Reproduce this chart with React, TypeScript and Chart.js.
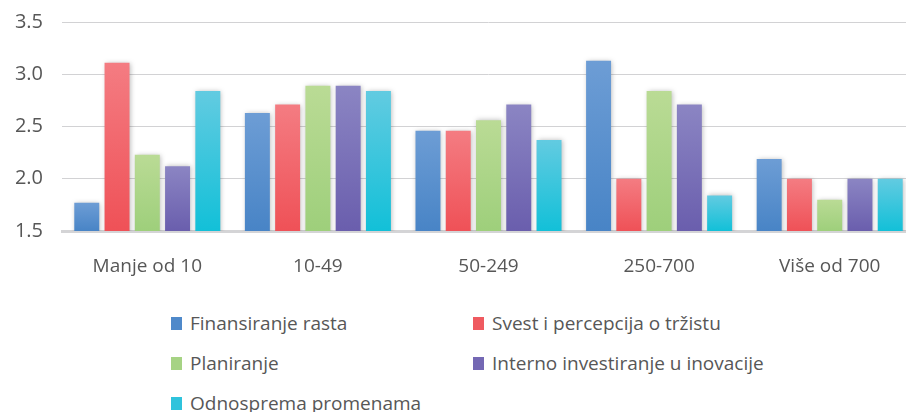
import React, { useEffect, useRef } from "react";
import { Chart, registerables } from "chart.js";

Chart.register(...registerables);

const categories = ["Manje od 10", "10-49", "50-249", "250-700", "Više od 700"];
const seriesNames = [
  "Finansiranje rasta",
  "Svest i percepcija o tržistu",
  "Planiranje",
  "Interno investiranje u inovacije",
  "Odnosprema promenama",
];
const finansiranje = [1.77, 2.63, 2.46, 3.13, 2.19];
const svest = [3.11, 2.71, 2.46, 2.0, 2.0];
const planiranje = [2.23, 2.89, 2.56, 2.84, 1.8];
const interno = [2.12, 2.89, 2.71, 2.71, 2.0];
const odnosprema = [2.84, 2.84, 2.37, 1.84, 2.0];
const yTicks = [1.5, 2.0, 2.5, 3.0, 3.5];

const seriesData = [finansiranje, svest, planiranje, interno, odnosprema];
const gradTop = ["#6d9dd5", "#f47c82", "#badb95", "#8b85c3", "#62cbe1"];
const gradBottom = ["#4884c6", "#ef5157", "#9ecf7b", "#6a5ead", "#12c0d8"];
const legendColors = ["#4f89ca", "#ef5a60", "#a6d384", "#7468b4", "#2fc3dc"];

const TEXT = "#575757";
const FONT = "'Open Sans', 'Liberation Sans', sans-serif";

export default function App() {
  const ref = useRef<HTMLCanvasElement | null>(null);

  useEffect(() => {
    if (!ref.current) return;
    const shadowPlugin = {
      id: "barShadow",
      beforeDatasetsDraw(chart: any) {
        const c = chart.ctx;
        c.save();
        c.shadowColor = "rgba(0,0,0,0.28)";
        c.shadowBlur = 5;
        c.shadowOffsetX = 1;
        c.shadowOffsetY = 0;
      },
      afterDatasetsDraw(chart: any) {
        chart.ctx.restore();
      },
    };
    const chart = new Chart(ref.current, {
      type: "bar",
      data: {
        labels: categories,
        datasets: seriesData.map((d, i) => ({
          label: seriesNames[i],
          data: d,
          backgroundColor: (ctx: any) => {
            const ch = ctx.chart;
            const area = ch.chartArea;
            if (!area || ctx.parsed == null) return gradBottom[i];
            const yS = ch.scales.y;
            const top = yS.getPixelForValue(ctx.parsed.y);
            const g = ch.ctx.createLinearGradient(0, top, 0, area.bottom);
            g.addColorStop(0, gradTop[i]);
            g.addColorStop(1, gradBottom[i]);
            return g;
          },
          borderWidth: 0,
          categoryPercentage: 0.887,
          barPercentage: 0.825,
        })),
      },
      options: {
        animation: false,
        responsive: false,
        maintainAspectRatio: false,
        layout: { padding: { top: 11, left: 0, right: 0, bottom: 0 } },
        plugins: {
          legend: { display: false },
          tooltip: { enabled: false },
        },
        scales: {
          x: {
            grid: { display: false, drawTicks: false },
            border: { display: true, color: "#d4d4d6", width: 3 },
            ticks: {
              color: TEXT,
              font: { family: FONT, size: 19 },
              padding: 24,
              maxRotation: 0,
            },
            afterFit: (s: any) => {
              s.height = 59;
            },
          },
          y: {
            min: 1.5,
            max: 3.5,
            afterBuildTicks: (s: any) => {
              s.ticks = yTicks.map((v) => ({ value: v }));
            },
            grid: { color: "#d2d2d4", lineWidth: 1, drawTicks: false },
            border: { display: false },
            ticks: {
              color: TEXT,
              font: { family: FONT, size: 20 },
              padding: 19,
              callback: (v: any) => Number(v).toFixed(1),
            },
            afterFit: (s: any) => {
              s.width = 62;
            },
          },
        },
      },
      plugins: [shadowPlugin],
    } as any);
    return () => chart.destroy();
  }, []);

  return (
    <div
      style={{
        position: "fixed",
        left: 0,
        top: 0,
        width: 906,
        height: 412,
        overflow: "hidden",
        background: "#fff",
      }}
    >
      <canvas
        ref={ref}
        width={915}
        height={299}
        style={{ display: "block", position: "absolute", left: 0, top: -9, width: 915, height: 299 }}
      />
      <div
        style={{
          position: "absolute",
          left: 171,
          top: 303,
          display: "grid",
          gridTemplateColumns: "302px 330px",
          gridAutoRows: "40px",
          fontFamily: FONT,
          fontSize: 19,
          color: TEXT,
        }}
      >
        {seriesNames.map((n, i) => (
          <div key={n} style={{ display: "flex", alignItems: "center", whiteSpace: "nowrap" }}>
            <span
              style={{
                display: "inline-block",
                width: 11,
                height: 13,
                background: legendColors[i],
                marginRight: 8,
              }}
            />
            <span>{n}</span>
          </div>
        ))}
      </div>
    </div>
  );
}
